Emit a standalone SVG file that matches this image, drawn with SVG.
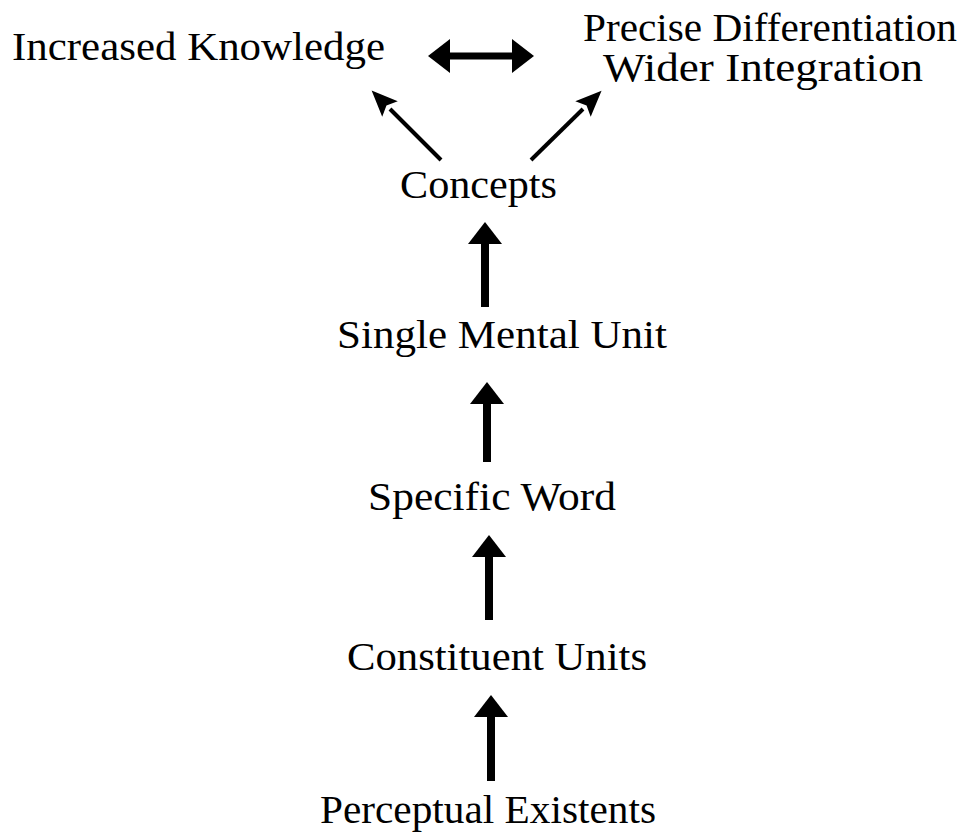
<svg xmlns="http://www.w3.org/2000/svg" width="974" height="832" viewBox="0 0 974 832">
<defs>
<style>
.t{font-family:'Liberation Serif','Times New Roman',Times,serif;font-size:39px;fill:#000}
.big{stroke:#000;stroke-width:8;fill:none}
.dbl{stroke:#000;stroke-width:7;fill:none}
.diag{stroke:#000;stroke-width:4;fill:none}
</style>
<marker id="hb" markerUnits="userSpaceOnUse" viewBox="0 -17 22 34" refX="0" refY="0" markerWidth="22" markerHeight="34" orient="auto-start-reverse" overflow="visible">
<path d="M0,-17 L22,0 L0,17 z" fill="#000"/>
</marker>
<marker id="hs" markerUnits="userSpaceOnUse" viewBox="0 -11 26 22" refX="0" refY="0" markerWidth="26" markerHeight="22" orient="auto" overflow="visible">
<path d="M0,-11 L26,0 L0,11 L5,0 z" fill="#000"/>
</marker>
</defs>
<g id="n-knowledge"><text class="t" font-family="Liberation Serif" x="12" y="60" textLength="373" lengthAdjust="spacingAndGlyphs">Increased Knowledge</text></g>
<g id="n-differentiation">
<text class="t" font-family="Liberation Serif" x="583" y="41" textLength="374" lengthAdjust="spacingAndGlyphs">Precise Differentiation</text>
<text class="t" font-family="Liberation Serif" x="603" y="81" textLength="320" lengthAdjust="spacingAndGlyphs">Wider Integration</text>
</g>
<g id="n-concepts"><text class="t" font-family="Liberation Serif" x="400" y="198" textLength="157" lengthAdjust="spacingAndGlyphs">Concepts</text></g>
<g id="n-single"><text class="t" font-family="Liberation Serif" x="337" y="348" textLength="330" lengthAdjust="spacingAndGlyphs">Single Mental Unit</text></g>
<g id="n-word"><text class="t" font-family="Liberation Serif" x="368" y="510" textLength="248" lengthAdjust="spacingAndGlyphs">Specific Word</text></g>
<g id="n-constituent"><text class="t" font-family="Liberation Serif" x="347" y="670" textLength="300" lengthAdjust="spacingAndGlyphs">Constituent Units</text></g>
<g id="n-perceptual"><text class="t" font-family="Liberation Serif" x="320" y="823" textLength="336" lengthAdjust="spacingAndGlyphs">Perceptual Existents</text></g>
<g id="connectors">
<line class="dbl" x1="450" y1="56" x2="512" y2="56" marker-start="url(#hb)" marker-end="url(#hb)"/>
<line class="diag" x1="441" y1="160" x2="390" y2="109" marker-end="url(#hs)"/>
<line class="diag" x1="531" y1="160" x2="583" y2="109" marker-end="url(#hs)"/>
<line class="big" x1="485" y1="307" x2="485" y2="244" marker-end="url(#hb)"/>
<line class="big" x1="487" y1="462" x2="487" y2="404" marker-end="url(#hb)"/>
<line class="big" x1="489" y1="620" x2="489" y2="557" marker-end="url(#hb)"/>
<line class="big" x1="491" y1="781" x2="491" y2="717" marker-end="url(#hb)"/>
</g>
</svg>
